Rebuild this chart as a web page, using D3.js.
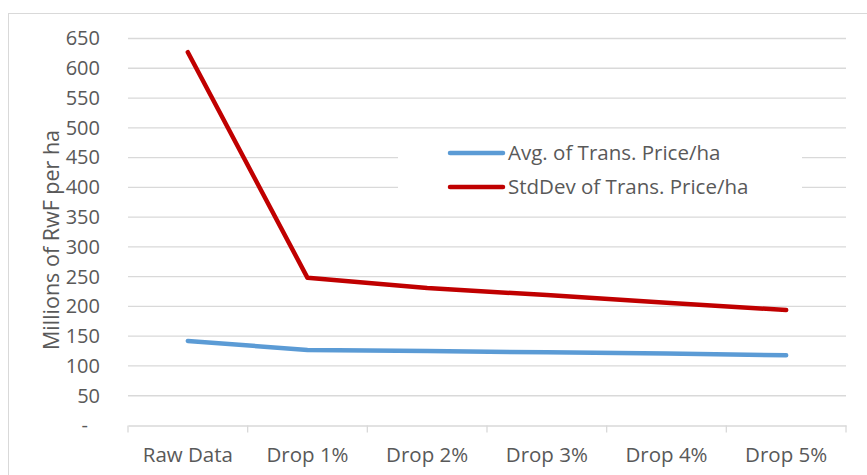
<!DOCTYPE html>
<html>
<head>
<meta charset="utf-8">
<script src="https://cdn.jsdelivr.net/npm/d3@7"></script>
<style>
  body { margin: 0; background: #fff; }
  text { font-family: 'Open Sans', sans-serif; fill: #595959; }
</style>
</head>
<body>
<div id="chart"></div>
<script>
// data
var categories = ['Raw Data', 'Drop 1%', 'Drop 2%', 'Drop 3%', 'Drop 4%', 'Drop 5%']
var avgPrice = [142, 127, 125, 123, 121, 118]
var stdPrice = [627, 248, 231, 219, 206, 194]
var yTicks = [0, 50, 100, 150, 200, 250, 300, 350, 400, 450, 500, 550, 600, 650]
var seriesNames = ['Avg. of Trans. Price/ha', 'StdDev of Trans. Price/ha']
var seriesColors = ['#5b9bd5', '#c00000']

var width = 867
var height = 475

var svg = d3.select('#chart').append('svg')
  .attr('width', width)
  .attr('height', height)

// chart frame
svg.append('rect')
  .attr('x', 8.5)
  .attr('y', 13.5)
  .attr('width', 880)
  .attr('height', 500)
  .attr('fill', '#fff')
  .attr('stroke', '#d9d9d9')
  .attr('stroke-width', 1)

var x = d3.scaleBand().domain(categories).range([128, 846]).padding(0)
var y = d3.scaleLinear().domain([0, 650]).range([425.5, 38.5])

// gridlines
svg.append('g')
  .selectAll('line')
  .data(yTicks.filter(function (d) { return d > 0 }))
  .enter().append('line')
  .attr('x1', 128)
  .attr('x2', 846)
  .attr('y1', function (d) { return y(d) })
  .attr('y2', function (d) { return y(d) })
  .attr('stroke', '#d9d9d9')
  .attr('stroke-width', 1.3)

// x axis
var xAxis = d3.axisBottom(x).tickSize(0).tickPadding(22)
var xg = svg.append('g')
  .attr('transform', 'translate(0,' + y(0) + ')')
  .call(xAxis)
xg.select('.domain').attr('stroke', '#d9d9d9').attr('stroke-width', 1.3)
xg.selectAll('text')
  .style('font-size', '20.5px')
  .attr('fill', '#595959')
  .style('font-family', "'Open Sans', sans-serif")

// tick marks between categories
var bounds = categories.map(function (c) { return x(c) }).concat([x(categories[categories.length - 1]) + x.bandwidth()])
xg.selectAll('.bound')
  .data(bounds)
  .enter().append('line')
  .attr('class', 'bound')
  .attr('x1', function (d) { return d })
  .attr('x2', function (d) { return d })
  .attr('y1', 0)
  .attr('y2', 7)
  .attr('stroke', '#d9d9d9')
  .attr('stroke-width', 1.3)

// y axis labels
var yAxis = d3.axisLeft(y).tickValues(yTicks).tickSize(0).tickPadding(28)
  .tickFormat(function (d) { return d === 0 ? '-' : d })
var yg = svg.append('g')
  .attr('transform', 'translate(128,0)')
  .call(yAxis)
yg.select('.domain').remove()
yg.selectAll('text')
  .style('font-size', '20px')
  .attr('fill', '#595959')
  .style('font-family', "'Open Sans', sans-serif")
  .attr('dx', function (d) { return d === 0 ? -12 : 0 })

// axis title
svg.append('text')
  .attr('transform', 'translate(59,240)rotate(-90)')
  .attr('text-anchor', 'middle')
  .style('font-size', '21.5px')
  .text('Millions of RwF per ha')

// legend box (hides gridlines behind it)
svg.append('rect')
  .attr('x', 398)
  .attr('y', 136)
  .attr('width', 404)
  .attr('height', 64)
  .attr('fill', '#fff')

// lines
var line = d3.line()
  .x(function (d, i) { return x(categories[i]) + x.bandwidth() / 2 })
  .y(function (d) { return y(d) })

var series = [avgPrice, stdPrice]
svg.append('g')
  .selectAll('path')
  .data(series)
  .enter().append('path')
  .attr('d', line)
  .attr('fill', 'none')
  .attr('stroke', function (d, i) { return seriesColors[i] })
  .attr('stroke-width', 4.5)
  .attr('stroke-linecap', 'round')
  .attr('stroke-linejoin', 'round')

// legend
var legend = svg.append('g')
  .selectAll('g')
  .data(seriesNames)
  .enter().append('g')
  .attr('transform', function (d, i) { return 'translate(450,' + (153 + i * 34) + ')' })

legend.append('line')
  .attr('x1', 0)
  .attr('x2', 53)
  .attr('stroke', function (d, i) { return seriesColors[i] })
  .attr('stroke-width', 4.5)
  .attr('stroke-linecap', 'round')

legend.append('text')
  .attr('x', 58)
  .attr('dy', '0.35em')
  .style('font-size', '20.5px')
  .text(function (d) { return d })
</script>
</body>
</html>
